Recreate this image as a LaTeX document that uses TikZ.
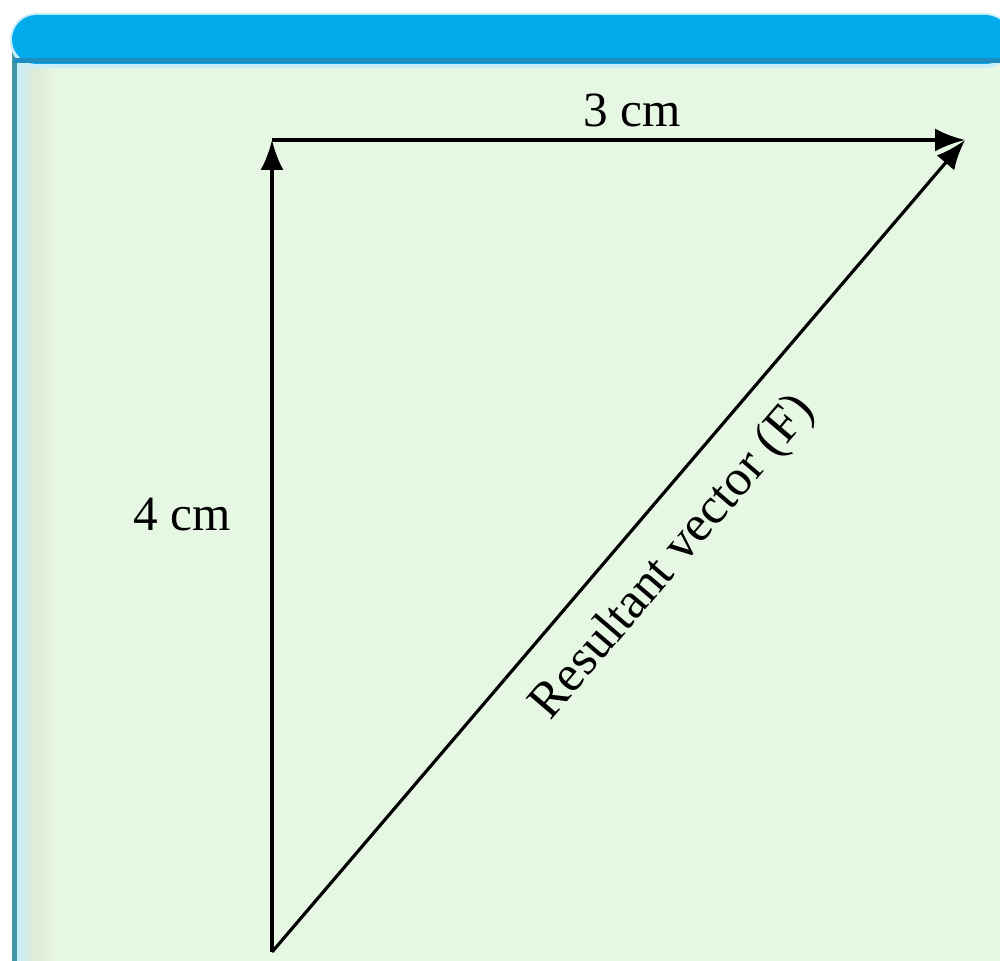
\documentclass[tikz,border=0pt]{standalone}
\usepackage{fontspec}
\setmainfont{Liberation Serif}
\usetikzlibrary{arrows.meta}
\definecolor{bggreen}{RGB}{230,247,227}
\definecolor{hdrblue}{RGB}{0,170,235}
\definecolor{hdrdark}{RGB}{30,140,190}
\definecolor{hdrlight}{RGB}{200,238,250}
\definecolor{edgeteal}{RGB}{70,150,170}
\definecolor{edgebeige}{RGB}{225,235,215}
\tikzset{
  vec/.style={line width=0.9pt, black, -{Latex[length=8.5pt,width=6.5pt]}},
  lbl/.style={font=\fontsize{14}{17}\selectfont, inner sep=0pt}
}
\begin{document}
\begin{tikzpicture}[x=0.01cm,y=-0.01cm]
\useasboundingbox (0,0) rectangle (1000,961);
\fill[white] (0,0) rectangle (1000,961);
% panel background
\fill[bggreen] (14,50) rectangle (1000,961);
% left edge strip
\shade[left color=hdrlight, right color=bggreen, middle color=edgebeige] (17,50) rectangle (55,961);
\fill[edgeteal] (12,50) rectangle (17,961);
% header bar
\fill[hdrlight, rounded corners=7.5pt] (10,13) rectangle (1012,68);
\fill[hdrblue, rounded corners=7pt] (12,15) rectangle (1010,64);
\fill[hdrdark] (14,58) rectangle (1000,63);
% vectors
\coordinate (O) at (272,952);
\coordinate (A) at (272,140);
\coordinate (B) at (965,140);
\draw[vec] (O) -- (A);
\draw[vec] (A) -- (B);
\draw[vec] (O) -- (B);
\node[lbl] (l3) at (632,110) {3 cm};
\node[lbl] (l4) at (182,515) {4 cm};
\node[lbl, font=\fontsize{14.5}{17}\selectfont, rotate=49.5] (lf) at (674,558) {Resultant vector (F)};
\end{tikzpicture}
\end{document}
